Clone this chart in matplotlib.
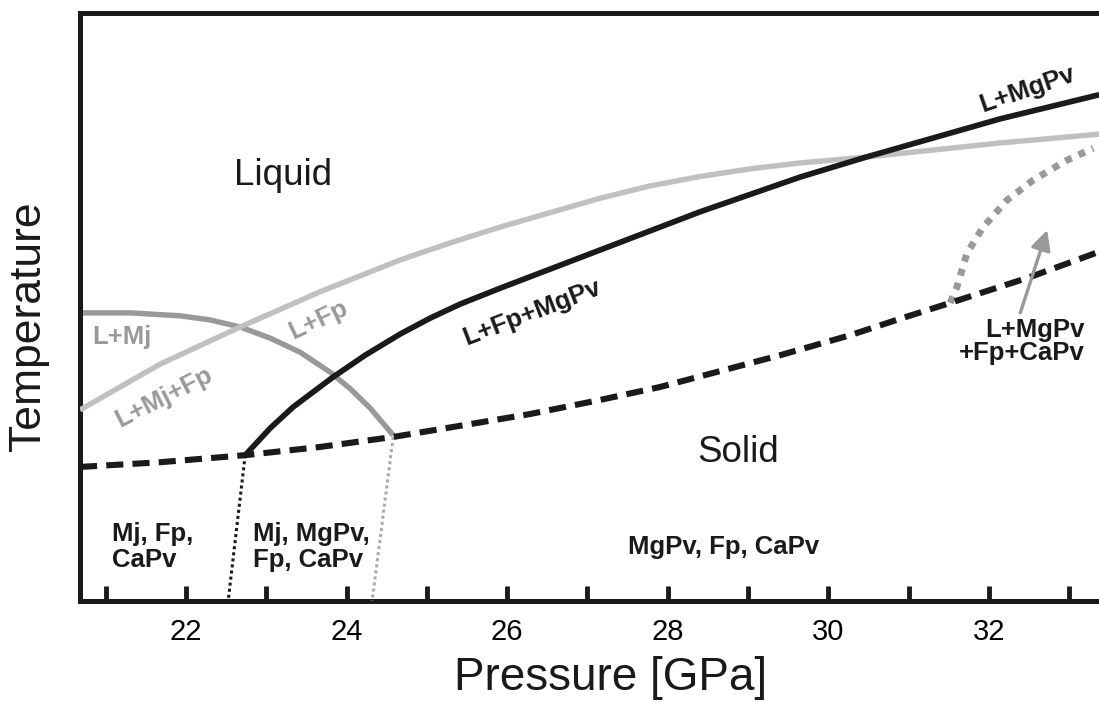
import numpy as np
import matplotlib
matplotlib.use('Agg')
import matplotlib.pyplot as plt

# ─── Data (pressure in GPa, temperature in arbitrary units) ───
# liquidus of Fp (light gray): L+Mj+Fp / L+Fp
fp_P = [20.68, 21.679, 22.675, 23.671, 24.667, 25.29, 25.913, 27.158, 27.781, 28.404,
        29.026, 29.649, 30.471, 32.14, 33.373]
fp_T = [32.5, 40.3, 46.6, 52.6, 58.0, 60.9, 63.6, 68.5, 70.6, 72.2,
        73.5, 74.5, 75.5, 77.9, 79.4]

# Mj liquidus (dark gray): L+Mj
mj_P = [20.68, 21.305, 21.928, 22.301, 22.675, 23.049, 23.422, 23.796, 24.045, 24.294, 24.58]
mj_T = [49.0, 49.0, 48.5, 47.8, 46.6, 44.7, 42.3, 38.9, 36.1, 32.8, 28.2]

# MgPv liquidus (black solid): L+Fp+MgPv / L+MgPv
pv_P = [22.737, 23.049, 23.335, 23.833, 24.231, 24.667, 25.04, 25.415, 25.913, 27.158,
        28.404, 29.649, 30.471, 32.14, 33.373]
pv_T = [24.8, 29.4, 33.0, 38.1, 41.8, 45.4, 48.1, 50.5, 53.2, 59.7,
        66.2, 72.1, 75.5, 82.0, 86.1]

# solidus (black dashed)
sol_P = [20.68, 21.679, 22.737, 23.671, 24.58, 25.415, 26.286, 27.158, 27.905,
         28.652, 29.399, 30.271, 30.894, 31.517, 32.513, 33.373]
sol_T = [22.8, 23.6, 24.8, 26.2, 27.9, 29.8, 31.8, 34.2, 36.4,
         39.1, 41.8, 45.2, 48.0, 50.7, 55.1, 59.4]

# CaPv-out boundary (gray dotted)
ca_P = [31.517, 31.60, 31.728, 31.928, 32.227, 32.551, 32.975, 33.298]
ca_T = [50.7, 53.4, 59.2, 63.6, 68.2, 71.6, 75.0, 77.0]

# subsolidus boundaries
mgpv_in_P = [22.737, 22.525]
mgpv_in_T = [24.8, 0.0]
mj_out_P = [24.58, 24.318]
mj_out_T = [27.9, 0.0]

xticks_major = [22, 24, 26, 28, 30, 32]
xticks_minor = [21, 23, 25, 27, 29, 31, 33]

# ─── Styles ───────────────────────────────────────────────
BLACK = '#1a1a1a'
LGRAY = '#c0c0c0'
DGRAY = '#999999'
bold = dict(fontfamily='Liberation Sans', fontweight='bold', fontsize=18.5)

fig = plt.figure(figsize=(10.99, 7.02), dpi=100)
ax = fig.add_axes([80 / 1099, 1 - 601 / 702, 1 - 80 / 1099, 588 / 702])

ax.plot(mj_P, mj_T, color=DGRAY, lw=3.9, solid_capstyle='butt',
        solid_joinstyle='round', zorder=2)
ax.plot(fp_P, fp_T, color=LGRAY, lw=3.9, solid_capstyle='butt',
        solid_joinstyle='round', zorder=3)
ax.plot(pv_P, pv_T, color=BLACK, lw=4.1, solid_capstyle='butt',
        solid_joinstyle='round', zorder=4)
ax.plot(ca_P, ca_T, color=DGRAY, lw=5, linestyle=(0, (1.0, 1.1)), zorder=4)
ax.plot(sol_P, sol_T, color=BLACK, lw=4.4, linestyle=(0, (2.8, 1.5)), zorder=5)
ax.plot(mgpv_in_P, mgpv_in_T, color=BLACK, lw=2.2, linestyle=(0, (1, 1)), zorder=3)
ax.plot(mj_out_P, mj_out_T, color='#aaaaaa', lw=2.2, linestyle=(0, (1, 1)), zorder=3)

ax.annotate('', xy=(32.725, 63.1), xytext=(32.39, 49.0),
            arrowprops=dict(arrowstyle='-|>', color=DGRAY, lw=2.4,
                            mutation_scale=30, shrinkA=0, shrinkB=0), zorder=6)

# ─── Labels ───────────────────────────────────────────────
ax.text(23.21, 72.4, 'Liquid', fontfamily='Liberation Sans', fontsize=26.5,
        ha='center', va='center', color=BLACK)
ax.text(28.88, 25.3, 'Solid', fontfamily='Liberation Sans', fontsize=26.5,
        ha='center', va='center', color=BLACK)

ax.text(20.83, 44.9, 'L+Mj', color=DGRAY, ha='left', va='center', **bold)
ax.text(21.72, 34.7, 'L+Mj+Fp', color=DGRAY, ha='center', va='center',
        rotation=27, rotation_mode='anchor', **bold)
ax.text(23.65, 47.8, 'L+Fp', color=DGRAY, ha='center', va='center',
        rotation=25, rotation_mode='anchor', **bold)
ax.text(26.31, 49.0, 'L+Fp+MgPv', color=BLACK, ha='center', va='center',
        rotation=21, rotation_mode='anchor', **bold)
ax.text(32.476, 87.0, 'L+MgPv', color=BLACK, ha='center', va='center',
        rotation=19, rotation_mode='anchor', **bold)
ax.text(33.19, 44.2, 'L+MgPv\n+Fp+CaPv', color=BLACK, ha='right', va='center',
        linespacing=0.95, multialignment='right', **bold)

ax.text(21.08, 9.2, 'Mj, Fp,\nCaPv', color=BLACK, ha='left', va='center',
        linespacing=1.1, **bold)
ax.text(22.84, 9.2, 'Mj, MgPv,\nFp, CaPv', color=BLACK, ha='left', va='center',
        linespacing=1.1, **bold)
ax.text(28.69, 9.1, 'MgPv, Fp, CaPv', color=BLACK, ha='center', va='center', **bold)

# ─── Axes ─────────────────────────────────────────────────
ax.set_xlim(20.68, 33.37)
ax.set_ylim(0, 100)
ax.set_xticks(xticks_major)
ax.set_xticks(xticks_minor, minor=True)
ax.set_xticklabels([str(v) for v in xticks_major], fontfamily='Liberation Sans', fontsize=21)
ax.set_yticks([])
ax.tick_params(axis='x', which='both', direction='in', length=11, width=3.5,
               color=BLACK, pad=12)
for s in ['left', 'top', 'bottom']:
    ax.spines[s].set_linewidth(3.6)
    ax.spines[s].set_color(BLACK)
ax.spines['right'].set_visible(False)

ax.set_xlabel('Pressure [GPa]', fontfamily='Liberation Sans', fontsize=33, color=BLACK)
ax.xaxis.set_label_coords(0.521, -0.131)
ax.xaxis.label.set_va('center')
ax.set_ylabel('Temperature', fontfamily='Liberation Sans', fontsize=32, color=BLACK)
ax.yaxis.set_label_coords(-0.051, 0.468)
ax.yaxis.label.set_va('center')

fig.savefig('out.png', dpi=100)
